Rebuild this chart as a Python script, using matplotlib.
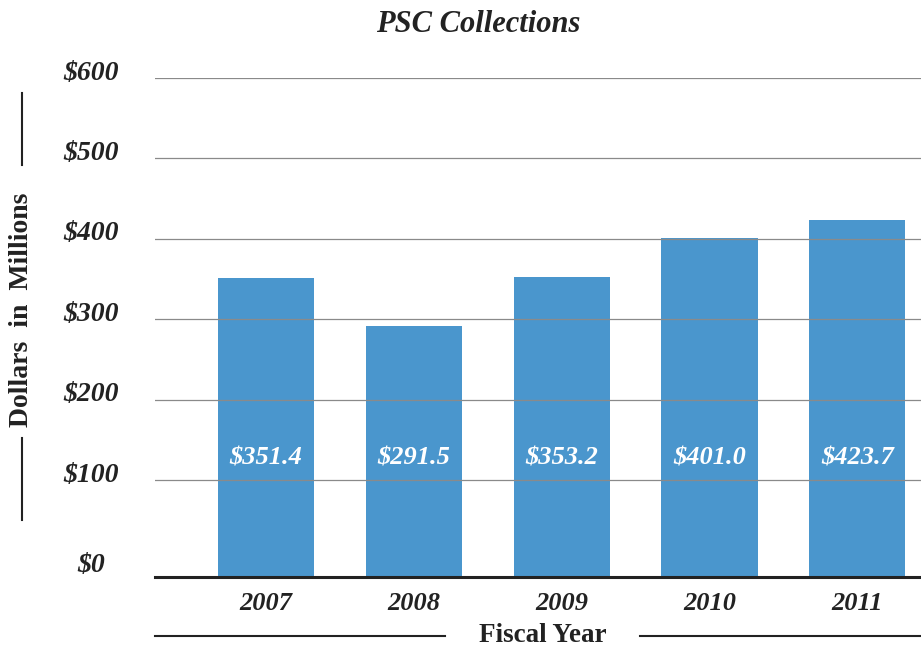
import matplotlib.pyplot as plt
from matplotlib.lines import Line2D
from matplotlib import transforms
import numpy as np

years = ['2007', '2008', '2009', '2010', '2011']
collections = [351.4, 291.5, 353.2, 401.0, 423.7]
y_ticks = [0, 100, 200, 300, 400, 500, 600]
y_tick_labels = ['$0', '$100', '$200', '$300', '$400', '$500', '$600']

plt.rcParams['font.family'] = ['Liberation Serif', 'DejaVu Serif']

fig = plt.figure(figsize=(9.21, 6.51), dpi=100)
ax = fig.add_axes([155/921, 74/651, 766/921, 499/651])

# в оригинале базовая линия чуть ниже нуля
y_floor = -20
x = np.arange(len(years))
ax.bar(x, np.array(collections) - y_floor, bottom=y_floor, width=0.65,
       color='#4a96cd', zorder=1)

ax.set_xlim(-0.75, 4.43)
ax.set_ylim(y_floor, 600)

for t in y_ticks[1:]:
    ax.axhline(t, color='#8a8a8a', linewidth=0.9, zorder=2)
ax.axhline(y_floor, color='#222222', linewidth=2.2, zorder=3, clip_on=False)

for s in ax.spines.values():
    s.set_visible(False)
ax.set_xticks([])
ax.set_yticks([])

# подписи оси Y
tr = transforms.offset_copy(ax.get_yaxis_transform(), fig=fig, x=0, y=5, units='dots')
tr0 = transforms.offset_copy(ax.get_yaxis_transform(), fig=fig, x=0, y=11, units='dots')
for t, lab in zip(y_ticks, y_tick_labels):
    if t == 0:
        ax.text(-0.083, y_floor, lab, transform=tr0, ha='center', va='center',
                fontsize=20, fontweight='bold', fontstyle='italic', color='#222222')
    else:
        ax.text(-0.083, t, lab, transform=tr, ha='center', va='center',
                fontsize=20, fontweight='bold', fontstyle='italic', color='#222222')

# годы
for i, yr in zip(x, years):
    ax.text(i, y_floor - 33, yr, ha='center', va='center', fontsize=19,
            fontweight='bold', fontstyle='italic', color='#222222', clip_on=False)

# значения внутри столбцов
for i, v in zip(x, collections):
    ax.text(i, 128, '$%.1f' % v, ha='center', va='center', fontsize=19,
            fontstyle='italic', fontweight='bold', color='white', zorder=4)

fig.text(478/921, 1 - 24/651, 'PSC Collections', ha='center', va='center',
         fontsize=22, fontweight='bold', fontstyle='italic', color='#222222')

fig.text(22/921, 1 - 310/651, 'Dollars  in  Millions', rotation=90, ha='center',
         va='center', fontsize=20, fontweight='bold', color='#222222')
fig.add_artist(Line2D([22/921, 22/921], [1 - 93/651, 1 - 165/651],
                      color='#222222', linewidth=1.5))
fig.add_artist(Line2D([22/921, 22/921], [1 - 438/651, 1 - 520/651],
                      color='#222222', linewidth=1.5))

fig.text(543/921, 1 - 636/651, 'Fiscal Year', ha='center', va='center',
         fontsize=19.5, fontweight='bold', color='#222222')
fig.add_artist(Line2D([155/921, 445/921], [1 - 636/651, 1 - 636/651],
                      color='#222222', linewidth=1.5))
fig.add_artist(Line2D([640/921, 921/921], [1 - 636/651, 1 - 636/651],
                      color='#222222', linewidth=1.5))

plt.savefig('out.png', dpi=100)
